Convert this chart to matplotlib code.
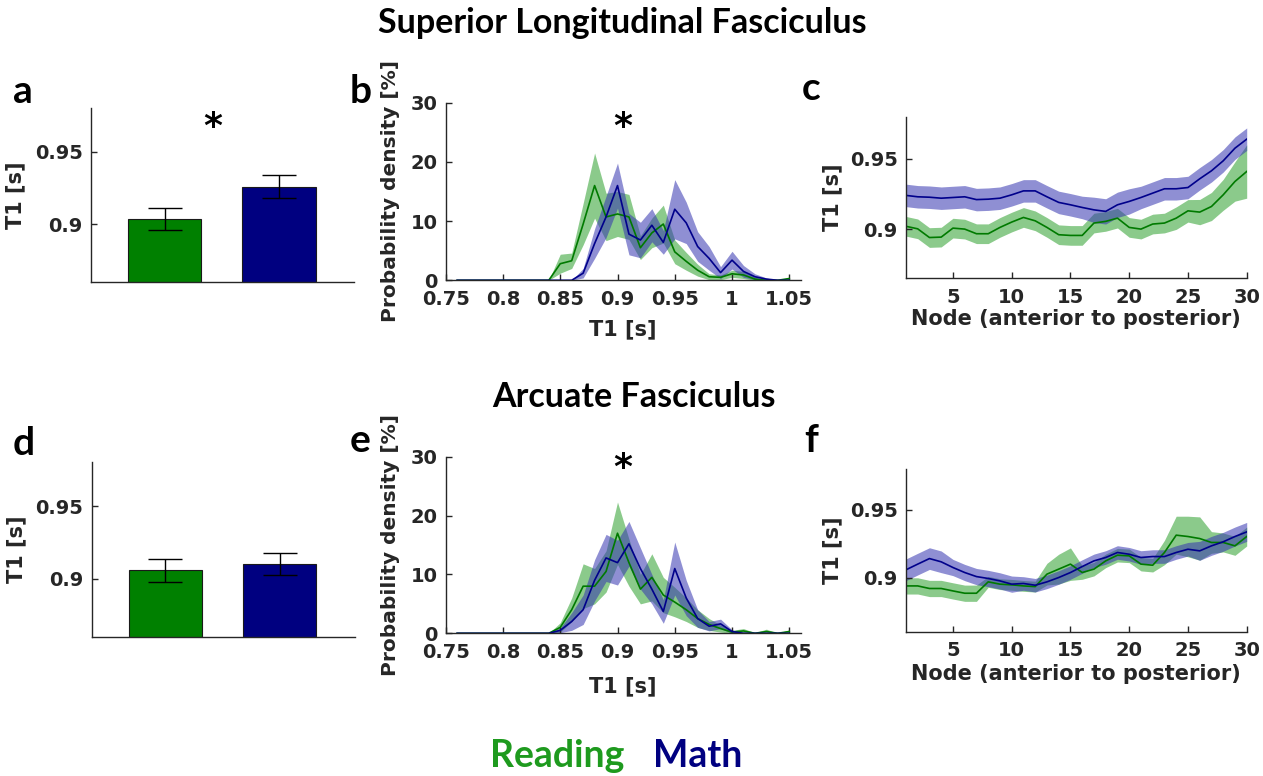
import matplotlib
matplotlib.use('Agg')
import matplotlib.pyplot as plt
import numpy as np

# ---- data ----
groups = ['Reading', 'Math']
bar_slf = [0.9035, 0.926]
bar_slf_err = [0.0075, 0.0077]
bar_af = [0.906, 0.910]
bar_af_err = [0.0079, 0.0076]

t1_bins = np.round(np.arange(0.76, 1.055, 0.01), 2)

pd_slf_read = [0, 0, 0, 0, 0, 0, 0, 0, 0,
               2.8, 3.3, 9.5, 16, 10.7, 11.2, 10.7, 5.5, 8, 9.5, 4.8, 3.2, 1.7, 0.6, 0.5, 1.1, 0.9, 0.2, 0, 0, 0.3]
pd_slf_read_sem = [0, 0, 0, 0, 0, 0, 0, 0, 0,
                   1.6, 1.3, 3.5, 5.5, 4, 3.8, 3.8, 2, 2.5, 3.2, 2, 1.5, 1, 0.5, 0.4, 0.6, 0.6, 0.3, 0, 0, 0.2]
pd_slf_math = [0, 0, 0, 0, 0, 0, 0, 0, 0, 0, 0,
               1.2, 6.2, 10.7, 16, 7.8, 6.8, 9.3, 6.4, 12, 9.7, 5.7, 3.7, 1.3, 3.4, 1.5, 0.6, 0.2, 0, 0]
pd_slf_math_sem = [0, 0, 0, 0, 0, 0, 0, 0, 0, 0, 0,
                   0.8, 2.5, 3.5, 3.8, 3.5, 3, 2.8, 2, 5, 3.5, 2.5, 2, 1, 1.5, 1, 0.5, 0.2, 0, 0]

pd_af_read = [0, 0, 0, 0, 0, 0, 0, 0, 0,
              1, 4, 8, 8, 10.5, 17, 12, 7.5, 9.5, 6.5, 5.3, 4, 2.5, 1.5, 0.8, 0.2, 0.4, 0, 0.3, 0, 0.3]
pd_af_read_sem = [0, 0, 0, 0, 0, 0, 0, 0, 0,
                  0.8, 2, 3.8, 3, 3.5, 5.3, 4, 2.5, 4, 3, 2.5, 2, 1.5, 1, 0.6, 0.3, 0.4, 0.1, 0.4, 0, 0.3]
pd_af_math = [0, 0, 0, 0, 0, 0, 0, 0, 0,
              0.5, 2, 4, 9, 12.8, 12, 15.2, 11, 7.5, 3.7, 11, 6, 2.5, 1.2, 1.6, 0.3, 0, 0, 0, 0, 0]
pd_af_math_sem = [0, 0, 0, 0, 0, 0, 0, 0, 0,
                  0.4, 1.5, 2.5, 3.5, 4, 3.8, 3.8, 3.5, 2.5, 2, 4.5, 3, 1.5, 0.8, 0.8, 0.3, 0, 0, 0, 0, 0]

nodes = np.arange(1, 31)

prof_slf_read = [0.902, 0.9002, 0.894, 0.8943, 0.9007, 0.900, 0.8967, 0.8967, 0.9012, 0.905,
                 0.9083, 0.9059, 0.9012, 0.896, 0.8955, 0.8955, 0.9043, 0.9055, 0.9078, 0.9012,
                 0.900, 0.9036, 0.9043, 0.9078, 0.913, 0.9121, 0.9161, 0.9244, 0.9339, 0.941]
prof_slf_read_sem = [0.007] * 20 + [0.007, 0.007, 0.007, 0.008, 0.008, 0.009, 0.010, 0.011, 0.014, 0.019]
prof_slf_math = [0.924, 0.923, 0.9227, 0.922, 0.9225, 0.923, 0.921, 0.9213, 0.922, 0.9244,
                 0.9272, 0.9272, 0.923, 0.919, 0.9173, 0.9154, 0.9137, 0.9126, 0.9173, 0.9197,
                 0.9225, 0.9256, 0.9287, 0.9287, 0.9296, 0.9358, 0.9415, 0.9486, 0.9576, 0.964]
prof_slf_math_sem = [0.008] * 16 + [0.009, 0.009, 0.009, 0.009] + [0.008] * 10

prof_af_read = [0.8938, 0.8938, 0.8919, 0.8919, 0.8901, 0.8884, 0.8884, 0.8968, 0.8951, 0.8946,
                0.8938, 0.8933, 0.9025, 0.9062, 0.9099, 0.9037, 0.9062, 0.9123, 0.9165, 0.916,
                0.9099, 0.9091, 0.9185, 0.9313, 0.9303, 0.9288, 0.9259, 0.9259, 0.9234, 0.9303]
prof_af_read_sem = [0.006] * 7 + [0.004] * 5 + [0.008, 0.011, 0.012] + [0.005] * 7 + \
                   [0.009, 0.014, 0.015, 0.016, 0.008, 0.007, 0.007, 0.007]
prof_af_math = [0.9057, 0.9099, 0.914, 0.9116, 0.9074, 0.9037, 0.9007, 0.8993, 0.8975, 0.8951,
                0.8956, 0.8943, 0.8968, 0.900, 0.9037, 0.9081, 0.9123, 0.9148, 0.9185, 0.9172,
                0.9148, 0.9155, 0.9155, 0.9185, 0.9209, 0.9197, 0.9234, 0.9264, 0.9303, 0.9337]
prof_af_math_sem = [0.008] * 4 + [0.006] * 6 + [0.005] * 15 + [0.007] * 5

# ---- style ----
green = '#008000'
navy = '#000080'
line_green = '#007a00'
line_navy = '#00008b'
band_green = '#2ca02c'
band_navy = '#3434b0'
axcol = '#262626'
labelfont = dict(family='DejaVu Sans', weight='bold', size=15, color=axcol)
TICK_SIZE = 14

fig = plt.figure(figsize=(12.63, 7.76), dpi=100)


def style_axes(ax):
    for s in ['top', 'right']:
        ax.spines[s].set_visible(False)
    for s in ['left', 'bottom']:
        ax.spines[s].set_color(axcol)
        ax.spines[s].set_linewidth(1.0)
    ax.tick_params(direction='in', length=4, width=1, colors=axcol, pad=6)
    ax.tick_params(axis='x', pad=7)
    for lab in ax.get_xticklabels() + ax.get_yticklabels():
        lab.set_fontfamily('DejaVu Sans')
        lab.set_fontweight('bold')
        lab.set_fontsize(TICK_SIZE)
        lab.set_color(axcol)


def star(ax, x, y):
    ax.text(x, y, '*', ha='center', va='center', fontsize=26, family='DejaVu Sans',
            weight='bold', color='black')


def bar_panel(rect, vals, errs, sig):
    ax = fig.add_axes(rect)
    ax.bar([1, 2], vals, width=0.64, color=[green, navy], edgecolor='#1a1a1a', linewidth=0.8,
           yerr=errs, capsize=12.5, error_kw=dict(ecolor='black', elinewidth=1, capthick=1))
    ax.set_xlim(0.358, 2.655)
    ax.set_ylim(0.86, 0.98)
    ax.set_yticks([0.9, 0.95])
    ax.set_yticklabels(['0.9', '0.95'])
    ax.set_xticks([])
    style_axes(ax)
    ax.set_ylabel('T1 [s]', **labelfont)
    ax.yaxis.set_label_coords(-0.25, 0.5)
    if sig:
        star(ax, 1.42, 0.967)
    return ax


def density_panel(rect, r, rs, m, ms, xlab_y, star_y):
    ax = fig.add_axes(rect)
    r = np.array(r); rs = np.array(rs); m = np.array(m); ms = np.array(ms)
    ax.fill_between(t1_bins, np.maximum(r - rs, 0), r + rs, color=band_green, alpha=0.55, lw=0)
    ax.fill_between(t1_bins, np.maximum(m - ms, 0), m + ms, color=band_navy, alpha=0.55, lw=0)
    ax.plot(t1_bins, r, color=line_green, lw=1.2)
    ax.plot(t1_bins, m, color=line_navy, lw=1.2)
    ax.set_xlim(0.75, 1.06)
    ax.set_ylim(0, 30)
    ax.set_xticks([0.75, 0.8, 0.85, 0.9, 0.95, 1.0, 1.05])
    ax.set_xticklabels(['0.75', '0.8', '0.85', '0.9', '0.95', '1', '1.05'])
    ax.set_yticks([0, 10, 20, 30])
    style_axes(ax)
    ax.set_ylabel('Probability density [%]', family='DejaVu Sans', weight='bold',
                  size=14.5, color=axcol)
    ax.yaxis.set_label_coords(-0.128, 0.5)
    ax.set_xlabel('T1 [s]', **labelfont)
    ax.xaxis.set_label_coords(0.5, xlab_y)
    star(ax, 0.905, star_y)
    return ax


def profile_panel(rect, r, rs, m, ms, ylo, xlab_y):
    ax = fig.add_axes(rect)
    r = np.array(r); rs = np.array(rs); m = np.array(m); ms = np.array(ms)
    ax.fill_between(nodes, r - rs, r + rs, color=band_green, alpha=0.55, lw=0)
    ax.fill_between(nodes, m - ms, m + ms, color=band_navy, alpha=0.55, lw=0)
    ax.plot(nodes, r, color=line_green, lw=1.2)
    ax.plot(nodes, m, color=line_navy, lw=1.2)
    ax.set_xlim(1, 30)
    ax.set_ylim(ylo, 0.98)
    ax.set_xticks([5, 10, 15, 20, 25, 30])
    ax.set_yticks([0.9, 0.95])
    ax.set_yticklabels(['0.9', '0.95'])
    style_axes(ax)
    ax.set_ylabel('T1 [s]', **labelfont)
    ax.yaxis.set_label_coords(-0.188, 0.5)
    ax.set_xlabel('Node (anterior to posterior)', **labelfont)
    ax.xaxis.set_label_coords(0.5, xlab_y)
    return ax


bar_panel([0.0721, 0.6362, 0.2082, 0.2242], bar_slf, bar_slf_err, True)
density_panel([0.3529, 0.6388, 0.2811, 0.2289], pd_slf_read, pd_slf_read_sem,
              pd_slf_math, pd_slf_math_sem, -0.218, 25.9)
profile_panel([0.7173, 0.6414, 0.2698, 0.2082], prof_slf_read, prof_slf_read_sem,
              prof_slf_math, prof_slf_math_sem, 0.865, -0.19)

bar_panel([0.0726, 0.1791, 0.2082, 0.2251], bar_af, bar_af_err, False)
density_panel([0.3529, 0.1839, 0.2811, 0.2276], pd_af_read, pd_af_read_sem,
              pd_af_math, pd_af_math_sem, -0.242, 28.1)
profile_panel([0.7173, 0.1860, 0.2698, 0.2093], prof_af_read, prof_af_read_sem,
              prof_af_math, prof_af_math_sem, 0.86, -0.199)

# titles
fig.text(0.4929, 0.957, 'Superior Longitudinal Fasciculus', ha='center', va='baseline',
         family='Lato', weight='bold', fontsize=24.5)
fig.text(0.502, 0.476, 'Arcuate Fasciculus', ha='center', va='baseline',
         family='Lato', weight='bold', fontsize=24.5)

# panel letters
letters = ['a', 'b', 'c', 'd', 'e', 'f']
letter_x = [0.010, 0.277, 0.635, 0.010, 0.277, 0.637]
letter_y = [0.867, 0.867, 0.871, 0.414, 0.418, 0.418]
for lt, lx, ly in zip(letters, letter_x, letter_y):
    fig.text(lx, ly, lt, ha='left', va='baseline', family='Lato', weight='bold', fontsize=28)

# legend
fig.text(0.388, 0.012, groups[0], ha='left', va='baseline', family='Lato', weight='bold',
         fontsize=27, color='#1e9a1e')
fig.text(0.517, 0.012, groups[1], ha='left', va='baseline', family='Lato', weight='bold',
         fontsize=27, color=navy)

fig.savefig('out.png', dpi=100)
